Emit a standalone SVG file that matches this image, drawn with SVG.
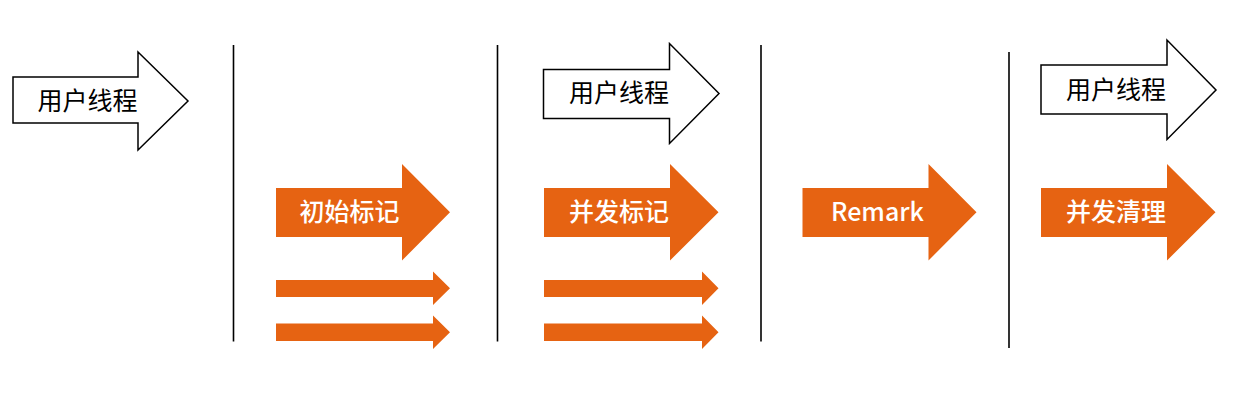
<svg xmlns="http://www.w3.org/2000/svg" width="1257" height="401" viewBox="0 0 1257 401">
<style>
.bg{fill:#ffffff}
.user{fill:#ffffff;stroke:#000000;stroke-width:1.5;stroke-linejoin:miter}
.phase{fill:#E66312}
.sep{stroke:#000000;stroke-width:1.6;fill:none}
.ut{font-family:"Noto Sans CJK SC","Noto Sans",sans-serif;font-size:25px;fill:#000000;text-anchor:middle;dominant-baseline:central}
.pt{font-family:"Noto Sans CJK SC","Noto Sans",sans-serif;font-size:25px;font-weight:500;fill:#ffffff;text-anchor:middle;dominant-baseline:central}
</style>
<rect class="bg" x="0" y="0" width="1257" height="401"/>
<g id="separators">
<line class="sep" x1="233.5" y1="45" x2="233.5" y2="341.5"/>
<line class="sep" x1="497.5" y1="45" x2="497.5" y2="341.5"/>
<line class="sep" x1="761" y1="45" x2="761" y2="341.5"/>
<line class="sep" x1="1009" y1="52" x2="1009" y2="348"/>
</g>
<g id="user-thread-1">
<polygon class="user" points="13,77 138,77 138,52 188,101 138,150 138,123 13,123"/>
<text class="ut" x="87.5" y="99">用户线程</text>
</g>
<g id="user-thread-2">
<polygon class="user" points="543.5,69.5 669.5,69.5 669.5,43.5 719,93.5 669.5,143.5 669.5,118.5 543.5,118.5"/>
<text class="ut" x="619" y="91">用户线程</text>
</g>
<g id="user-thread-3">
<polygon class="user" points="1041,65 1167,65 1167,40 1216,90 1167,139.5 1167,114 1041,114"/>
<text class="ut" x="1116" y="88">用户线程</text>
</g>
<g id="initial-mark">
<polygon class="phase" points="276,188 402,188 402,164 450,212.3 402,260.5 402,237 276,237"/>
<text class="pt" x="349.5" y="210">初始标记</text>
</g>
<g id="initial-mark-threads">
<polygon class="phase" points="276,280 433,280 433,271.5 450,288.3 433,305 433,297 276,297"/>
<polygon class="phase" points="276,323.5 433,323.5 433,315.5 450,332.3 433,349 433,341 276,341"/>
</g>
<g id="concurrent-mark">
<polygon class="phase" points="544,188 670,188 670,164 718.5,212.3 670,260.5 670,237 544,237"/>
<text class="pt" x="619" y="210">并发标记</text>
</g>
<g id="concurrent-mark-threads">
<polygon class="phase" points="544,280 702,280 702,271.5 718.5,288.3 702,305 702,297 544,297"/>
<polygon class="phase" points="544,323.5 702,323.5 702,315.5 718.5,332.3 702,349 702,341 544,341"/>
</g>
<g id="remark">
<polygon class="phase" points="802.5,188 928.5,188 928.5,164 976.5,212.3 928.5,260.5 928.5,237 802.5,237"/>
<text class="pt" x="877.5" y="210">Remark</text>
</g>
<g id="concurrent-sweep">
<polygon class="phase" points="1041,188 1167,188 1167,164 1215.5,212.3 1167,260.5 1167,237 1041,237"/>
<text class="pt" x="1116" y="210">并发清理</text>
</g>
</svg>
